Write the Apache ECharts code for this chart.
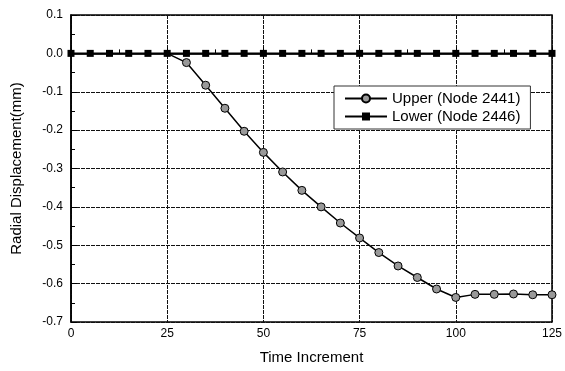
<!DOCTYPE html>
<html>
<head>
<meta charset="utf-8">
<script src="https://cdn.jsdelivr.net/npm/echarts@6/dist/echarts.min.js"></script>
<style>
html,body{margin:0;padding:0;background:#fff;}
#chart{width:565px;height:371px;}
</style>
</head>
<body>
<div id="chart"></div>
<script>
let timeSteps = [0,5,10,15,20,25,30,35,40,45,50,55,60,65,70,75,80,85,90,95,100,105,110,115,120,125];
// upper node markers up to 25 sit under the lower ones, so they are not drawn
let upperValues = [null,null,null,null,null,0,-0.024,-0.083,-0.143,-0.203,-0.258,-0.309,-0.357,-0.400,-0.442,-0.481,-0.519,-0.554,-0.584,-0.614,-0.636,-0.628,-0.628,-0.627,-0.629,-0.629];
let lowerValues = [0,0,0,0,0,0,0,0,0,0,0,0,0,0,0,0,0,0,0,0,0,0,0,0,0,0];
let seriesNames = ['Upper (Node 2441)','Lower (Node 2446)'];

function pairs(xs,ys,hideFirst){
    let out = [];
    let first = true;
    for(let i=0;i<xs.length;i++){
        if(hideFirst && first && ys[i]!==null){
            out.push({value:[xs[i],ys[i]],symbol:'none'});
            first = false;
        }else{
            out.push([xs[i],ys[i]]);
        }
    }
    return out;
}

let myChart = echarts.init(document.getElementById('chart'));
let font = 'Liberation Sans, Arial, sans-serif';

let option = {
    backgroundColor:'#fff',
    animation:false,
    grid:{
        left:71,right:10,top:15,bottom:49,
        show:true,
        borderColor:'#000',
        borderWidth:1.5
    },
    legend:{
        orient:'vertical',
        left:334,
        top:86,
        padding:[5,10,5,10],
        itemGap:3,
        itemWidth:42,
        itemHeight:10,
        borderColor:'#333',
        borderWidth:1,
        backgroundColor:'#fff',
        textStyle:{fontFamily:font,fontSize:15,color:'#000'},
        data:seriesNames
    },
    xAxis:{
        type:'value',
        min:0,max:125,interval:25,
        name:'Time Increment',
        nameLocation:'middle',
        nameGap:28,
        nameTextStyle:{fontFamily:font,fontSize:15,color:'#000'},
        axisLine:{lineStyle:{color:'#000',width:1.5}},
        axisTick:{inside:true,length:6,lineStyle:{color:'#000'}},
        minorTick:{show:true,splitNumber:2,length:4,lineStyle:{color:'#000'}},
        axisLabel:{fontFamily:font,fontSize:12,color:'#000',margin:6},
        splitLine:{show:true,lineStyle:{color:'#111',width:1,type:[4,1]}}
    },
    yAxis:{
        type:'value',
        min:-0.7,max:0.1,interval:0.1,
        name:'Radial Displacement(mm)',
        nameLocation:'middle',
        nameGap:47,
        nameTextStyle:{fontFamily:font,fontSize:15,color:'#000'},
        axisLine:{show:true,lineStyle:{color:'#000',width:1.5}},
        axisTick:{inside:true,length:6,lineStyle:{color:'#000'}},
        minorTick:{show:true,splitNumber:2,length:4,lineStyle:{color:'#000'}},
        axisLabel:{fontFamily:font,fontSize:12,color:'#000',margin:8,
            formatter:function(v){return v.toFixed(1);}},
        splitLine:{show:true,lineStyle:{color:'#111',width:1,type:[4,1]}}
    },
    series:[
        {
            name:seriesNames[0],
            type:'line',
            data:pairs(timeSteps,upperValues,true),
            symbol:'circle',
            symbolSize:8,
            itemStyle:{color:'#999',borderColor:'#000',borderWidth:1},
            lineStyle:{color:'#000',width:1.5},
            z:2
        },
        {
            name:seriesNames[1],
            type:'line',
            data:pairs(timeSteps,lowerValues,false),
            symbol:'rect',
            symbolSize:7,
            itemStyle:{color:'#000'},
            lineStyle:{color:'#000',width:2},
            z:3
        }
    ]
};
myChart.setOption(option);
</script>
</body>
</html>
